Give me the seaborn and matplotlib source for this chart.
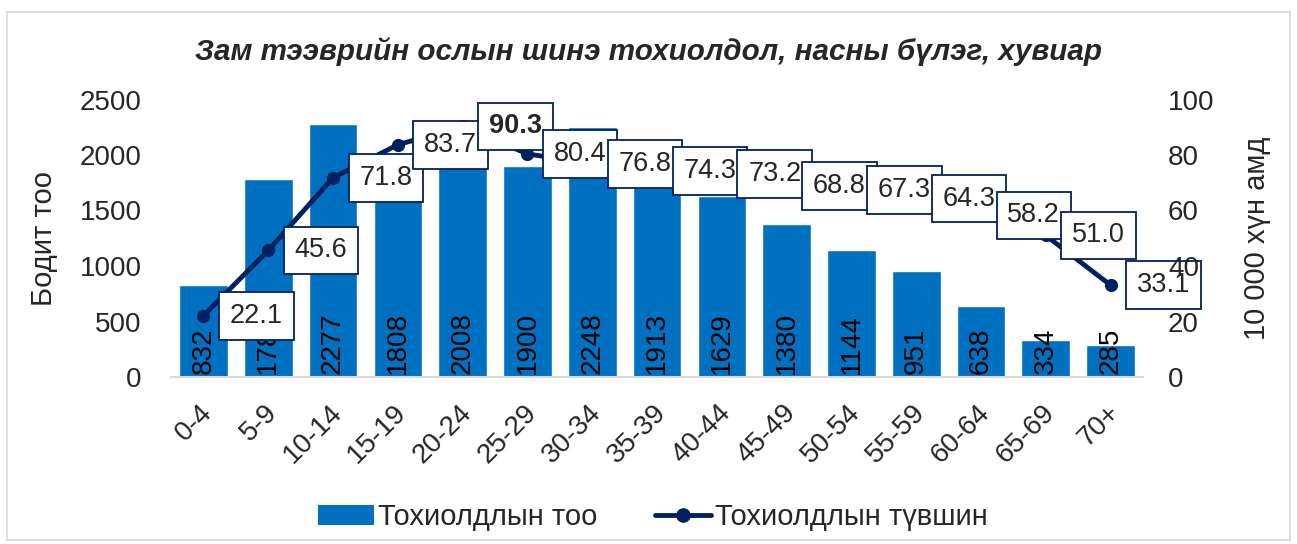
import numpy as np
import pandas as pd
import matplotlib.pyplot as plt
import matplotlib.transforms as mtransforms
import seaborn as sns
from matplotlib.patches import Patch, Rectangle
from matplotlib.lines import Line2D

age_groups = ["0-4", "5-9", "10-14", "15-19", "20-24", "25-29", "30-34", "35-39",
              "40-44", "45-49", "50-54", "55-59", "60-64", "65-69", "70+"]
case_counts = [832, 1784, 2277, 1808, 2008, 1900, 2248, 1913, 1629, 1380, 1144, 951, 638, 334, 285]
case_rates = [22.1, 45.6, 71.8, 83.7, 90.3, 80.4, 76.8, 74.3, 73.2, 68.8, 67.3, 64.3, 58.2, 51.0, 33.1]

title = "Зам тээврийн ослын шинэ тохиолдол, насны бүлэг, хувиар"
left_label = "Бодит тоо"
right_label = "10 000 хүн амд"
bar_name = "Тохиолдлын тоо"
line_name = "Тохиолдлын түвшин"

BAR_COLOR = "#0070C0"
LINE_COLOR = "#002060"

df = pd.DataFrame({"age": age_groups, "count": case_counts, "rate": case_rates})
df["pos"] = np.arange(len(df))

sns.set_style("white")
plt.rcParams["font.family"] = ["Liberation Sans", "DejaVu Sans"]

W, H = 1297, 544
fig = plt.figure(figsize=(W / 100, H / 100), dpi=100)
fig.patches.append(Rectangle((7 / W, 4 / H), 1283 / W, 528 / H, transform=fig.transFigure,
                             fill=False, edgecolor="#D9D9D9", linewidth=1.2))
ax = fig.add_axes([171 / W, 1 - 377 / H, 972 / W, 277.5 / H])

sns.barplot(data=df, x="age", y="count", color=BAR_COLOR, saturation=1, width=0.75, ax=ax)
ax.set_xlim(-0.5, len(df) - 0.5)
ax.set_ylim(0, 2500)
ax.set_yticks(range(0, 2501, 500))
ax.set_xlabel("")
ax.set_ylabel(left_label, fontsize=21)
ax.yaxis.set_label_coords((58 - 171) / 972, 0.5)
ax.tick_params(axis="y", labelsize=20, length=0, pad=21)
ax.tick_params(axis="x", labelsize=20, length=0, pad=0)
# push the rotated age labels down/right like the original
shift = mtransforms.ScaledTranslation(0.05, -0.32, fig.dpi_scale_trans)
for lab in ax.get_xticklabels():
    lab.set_rotation(45)
    lab.set_ha("right")
    lab.set_va("center")
    lab.set_rotation_mode("anchor")
    lab.set_transform(lab.get_transform() + shift)
for s in ["top", "left", "right"]:
    ax.spines[s].set_visible(False)
ax.spines["bottom"].set_color("#D9D9D9")
ax.spines["bottom"].set_linewidth(1.5)

for p, v in zip(df["pos"], df["count"]):
    ax.annotate(str(v), (p, 0), xytext=(0, 2), textcoords="offset points",
                rotation=90, ha="center", va="bottom", fontsize=20, color="black")

ax2 = ax.twinx()
sns.lineplot(data=df, x="pos", y="rate", color=LINE_COLOR, linewidth=3.5, marker="o",
             markersize=9.5, markeredgewidth=0, ax=ax2)
ax2.set_ylim(0, 100)
ax2.set_yticks(range(0, 101, 20))
ax2.set_ylabel(right_label, fontsize=21)
ax2.yaxis.set_label_coords((1243 - 171) / 972, 0.5)
ax2.tick_params(axis="y", labelsize=20, length=0, pad=18)
ax2.yaxis.set_zorder(3)
for s in ["top", "left", "right", "bottom"]:
    ax2.spines[s].set_visible(False)

for p, v in zip(df["pos"], df["rate"]):
    ax2.annotate(f"{v:.1f}", (p, v), xytext=(19, 0), textcoords="offset points",
                 ha="left", va="center", fontsize=19.5, zorder=2.5,
                 fontweight="bold" if v == max(case_rates) else "normal",
                 bbox=dict(boxstyle="square,pad=0.4", facecolor="white",
                           edgecolor=LINE_COLOR, linewidth=1.3))

fig.text(0.5, 1 - 52 / H, title, ha="center", va="center", fontsize=21.3,
         fontweight="bold", fontstyle="italic")

handles = [Patch(facecolor=BAR_COLOR, edgecolor="none"),
           Line2D([0], [0], color=LINE_COLOR, linewidth=3.5, marker="o", markersize=9.5)]
fig.legend(handles, [bar_name, line_name], loc="center", bbox_to_anchor=(653 / W, 1 - 517 / H),
           ncol=2, frameon=False, fontsize=21, handlelength=1.9, handletextpad=0.14,
           columnspacing=2.0)

fig.savefig("out.png", dpi=100)
